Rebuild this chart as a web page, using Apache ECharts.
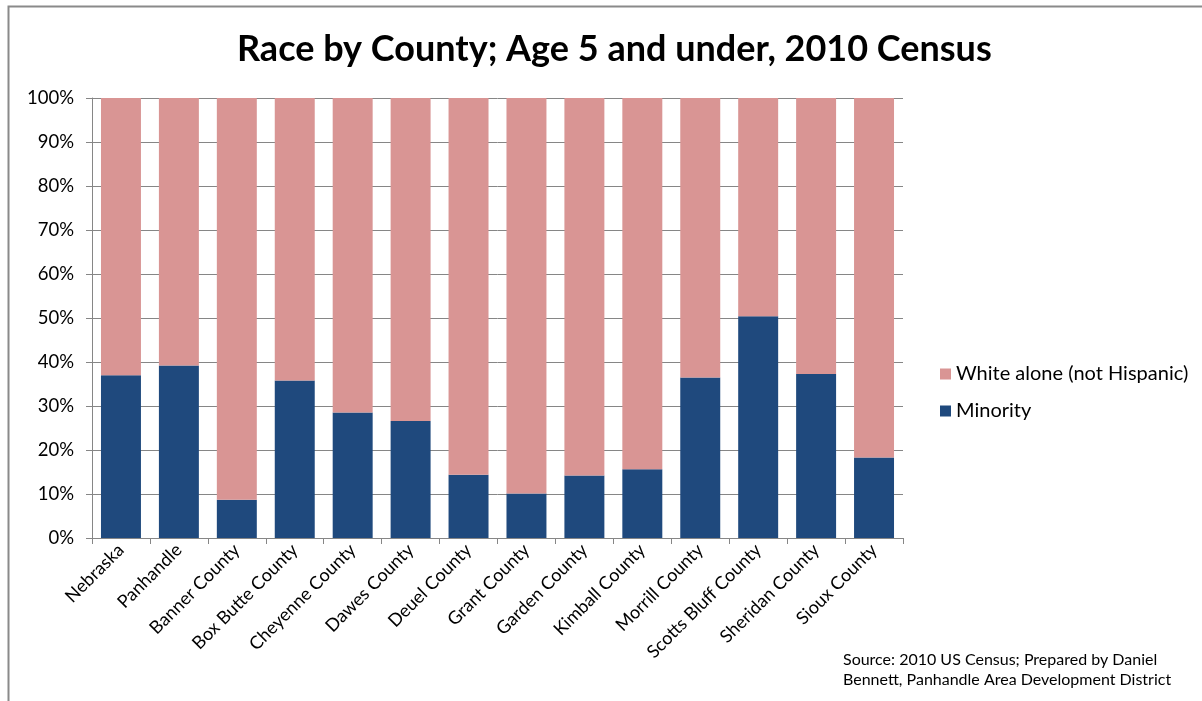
<!DOCTYPE html>
<html><head><meta charset="utf-8">
<script src="https://cdn.jsdelivr.net/npm/echarts@6/dist/echarts.min.js"></script>
<style>html,body{margin:0;padding:0;background:#fff}#c{width:1202px;height:701px}</style>
</head><body><div id="c"></div>
<script>
const categories = ["Nebraska","Panhandle","Banner County","Box Butte County","Cheyenne County","Dawes County","Deuel County","Grant County","Garden County","Kimball County","Morrill County","Scotts Bluff County","Sheridan County","Sioux County"];
const minority = [37.0, 39.2, 8.7, 35.8, 28.5, 26.6, 14.4, 10.1, 14.2, 15.6, 36.5, 50.4, 37.3, 18.3];
const white = minority.map(v => +(100 - v).toFixed(1));
const yTicks = [0,10,20,30,40,50,60,70,80,90,100];
const FONT = "Lato, 'Liberation Sans', sans-serif";

const chart = echarts.init(document.getElementById('c'), null, {renderer:'canvas'});
chart.setOption({
  animation:false,
  backgroundColor:'#fff',
  textStyle:{fontFamily:FONT},
  title:{text:'Race by County; Age 5 and under, 2010 Census', left:232, top:26,
    textStyle:{fontSize:36, fontWeight:'bold', color:'#000', fontFamily:FONT}},
  graphic:[
    {type:'rect', shape:{x:8.5,y:6.5,width:1400,height:900}, style:{fill:'none', stroke:'#8a8a8a', lineWidth:2}},
    {type:'text', left:843, top:650, style:{text:'Source: 2010 US Census; Prepared by Daniel\nBennett, Panhandle Area Development District', fontSize:16, lineHeight:20, fill:'#000', fontFamily:FONT}}
  ],
  legend:{orient:'vertical', left:935, top:359, itemWidth:11, itemHeight:11, itemGap:17, icon:'rect',
    data:['White alone (not Hispanic)','Minority'],
    textStyle:{fontSize:20, color:'#000', fontFamily:FONT}},
  grid:{left:92, right:299, top:98, bottom:163},
  xAxis:{type:'category', data:categories,
    axisLine:{lineStyle:{color:'#868686'}},
    axisTick:{show:true, alignWithLabel:false, length:6, lineStyle:{color:'#868686'}},
    axisLabel:{rotate:45, fontSize:18, color:'#000', interval:0, margin:9, fontFamily:FONT}},
  yAxis:{type:'value', min:0, max:100, interval:10,
    axisLine:{show:true, lineStyle:{color:'#868686'}},
    axisTick:{show:true, length:6, lineStyle:{color:'#868686'}},
    splitLine:{lineStyle:{color:'#868686'}},
    axisLabel:{fontSize:18.5, color:'#000', margin:18, fontFamily:FONT,
      formatter: v => yTicks.includes(v) ? v + '%' : ''}},
  series:[
    {name:'Minority', type:'bar', stack:'t', data:minority, barCategoryGap:'31%',
      itemStyle:{color:'#1f497d'}},
    {name:'White alone (not Hispanic)', type:'bar', stack:'t', data:white,
      itemStyle:{color:'#d99594'}}
  ]
});
</script></body></html>
